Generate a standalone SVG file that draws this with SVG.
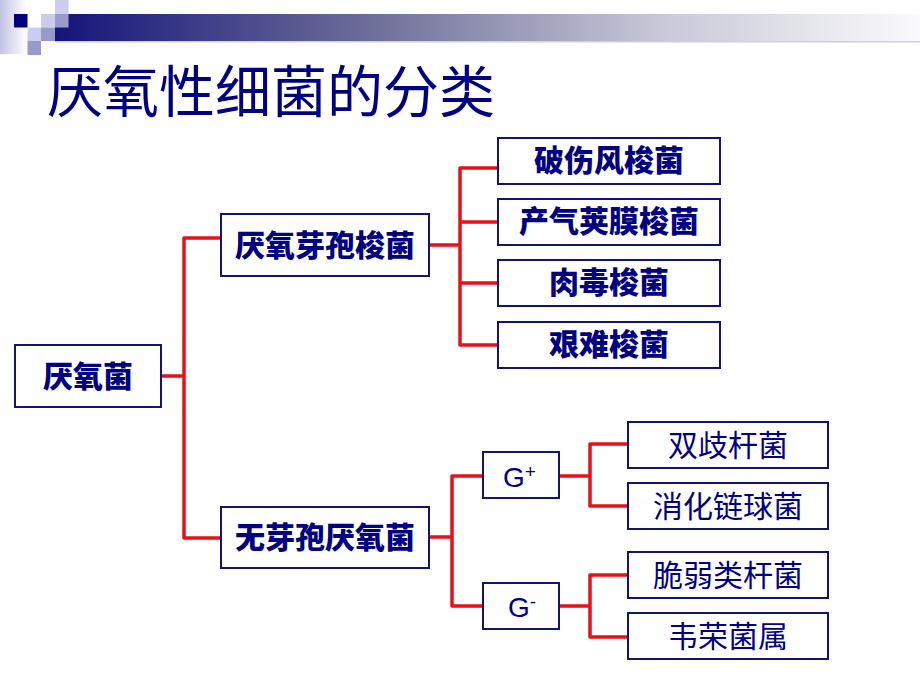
<svg xmlns="http://www.w3.org/2000/svg" width="920" height="690" viewBox="0 0 920 690">
<defs>
<linearGradient id="band" x1="0" y1="0" x2="1" y2="0">
<stop offset="0" stop-color="#14147a"/>
<stop offset="0.35" stop-color="#6a6a98"/>
<stop offset="0.7" stop-color="#c8c8d8"/>
<stop offset="1" stop-color="#fafafc"/>
</linearGradient>
<linearGradient id="col" x1="0" y1="0" x2="1" y2="0">
<stop offset="0" stop-color="#c4c4e4"/>
<stop offset="1" stop-color="#ffffff"/>
</linearGradient>
<style>
.box{fill:#ffffff;stroke:#14146e;stroke-width:2}
.t{font-family:"Noto Sans CJK SC","Noto Sans",sans-serif;fill:#000080;text-anchor:middle;dominant-baseline:central}
.b{font-weight:900;font-size:30px}
.r{font-weight:400;font-size:30px}
.g{font-family:"Liberation Sans",Arial,sans-serif;fill:#000080}
.ln{fill:none;stroke:#e8111a;stroke-width:3.5;stroke-linejoin:round}
</style>
</defs>
<g id="decoration">
<rect x="0" y="0" width="27" height="54" fill="url(#col)"/>
<rect x="55" y="14" width="865" height="27" fill="url(#band)"/>
<rect x="55" y="41" width="865" height="1.5" fill="#d0d0d8"/>
<rect x="14" y="14" width="13.5" height="13.5" fill="#000080"/>
<rect x="41" y="14" width="14" height="13.5" fill="#ccccec"/>
<rect x="55" y="0" width="13.5" height="14" fill="#ccccec"/>
<rect x="55" y="14" width="13.5" height="13.5" fill="#9999cc"/>
<rect x="27.5" y="27.5" width="13.5" height="13.5" fill="#ccccec"/>
<rect x="41" y="27.5" width="14" height="13.5" fill="#9999cc"/>
<rect x="27.5" y="41" width="13.5" height="14" fill="#9999cc"/>
</g>
<text x="47" y="87" font-family="Noto Sans CJK SC,Noto Sans,sans-serif" font-size="56" fill="#000080" dominant-baseline="central">厌氧性细菌的分类</text>
<g id="connectors">
<path class="ln" d="M161 376 H184 M221 238 H184 V538 H221"/>
<path class="ln" d="M422 245 H460 M498 168 H460 V345 H498 M460 222 H498 M460 283 H498"/>
<path class="ln" d="M422 537 H452 M483 476 H452 V606 H483"/>
<path class="ln" d="M559 476 H590 M628 444 H590 V506 H628"/>
<path class="ln" d="M559 606 H590 M628 575 H590 V637 H628"/>
</g>
<g id="n-root"><rect class="box" x="15" y="345" width="146" height="62"/><text class="t b" x="88" y="374">厌氧菌</text></g>
<g id="n-spore"><rect class="box" x="221" y="214" width="208" height="62"/><text class="t b" x="325" y="243">厌氧芽孢梭菌</text></g>
<g id="n-nonspore"><rect class="box" x="221" y="507" width="208" height="61"/><text class="t b" x="325" y="535">无芽孢厌氧菌</text></g>
<g id="n-tetani"><rect class="box" x="498" y="138" width="222" height="46"/><text class="t b" x="609" y="158">破伤风梭菌</text></g>
<g id="n-perfringens"><rect class="box" x="498" y="199" width="222" height="46"/><text class="t b" x="609" y="219">产气荚膜梭菌</text></g>
<g id="n-botulinum"><rect class="box" x="498" y="260" width="222" height="46"/><text class="t b" x="609" y="280">肉毒梭菌</text></g>
<g id="n-difficile"><rect class="box" x="498" y="322" width="222" height="46"/><text class="t b" x="609" y="342">艰难梭菌</text></g>
<g id="n-gpos"><rect class="box" x="483" y="452" width="76" height="46"/><text class="g" x="503" y="487" font-size="28">G<tspan font-size="19" dy="-9">+</tspan></text></g>
<g id="n-gneg"><rect class="box" x="483" y="583" width="76" height="46"/><text class="g" x="508" y="617" font-size="28">G<tspan font-size="19" dy="-9">-</tspan></text></g>
<g id="n-bifido"><rect class="box" x="628" y="422" width="200" height="46"/><text class="t r" x="728" y="443">双歧杆菌</text></g>
<g id="n-pepto"><rect class="box" x="628" y="483" width="200" height="46"/><text class="t r" x="728" y="504">消化链球菌</text></g>
<g id="n-bacteroides"><rect class="box" x="628" y="552" width="200" height="46"/><text class="t r" x="728" y="573">脆弱类杆菌</text></g>
<g id="n-veillonella"><rect class="box" x="628" y="613" width="200" height="46"/><text class="t r" x="728" y="634">韦荣菌属</text></g>
</svg>
